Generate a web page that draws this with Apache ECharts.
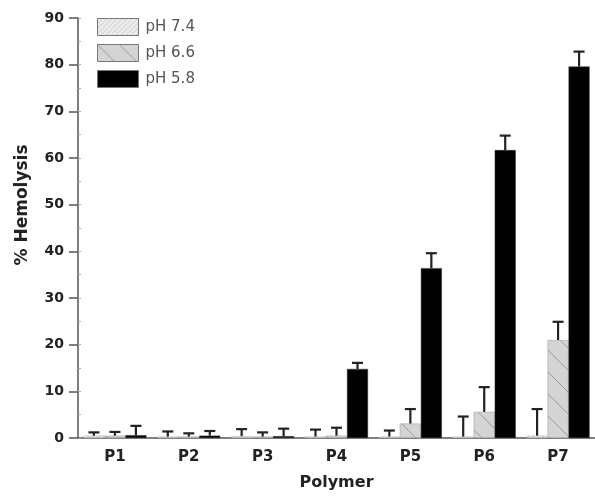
<!DOCTYPE html>
<html>
<head>
<meta charset="utf-8">
<script src="https://cdn.jsdelivr.net/npm/echarts@6/dist/echarts.min.js"></script>
<style>
  html, body { margin: 0; padding: 0; background: #fff; }
  #main { width: 595px; height: 504px; }
</style>
</head>
<body>
<div id="main"></div>
<script>
// 数据
var categories = ['P1', 'P2', 'P3', 'P4', 'P5', 'P6', 'P7'];
var seriesNames = ['pH 7.4', 'pH 6.6', 'pH 5.8'];
var ph74 = [0.5, 0.3, 0.4, 0.3, 0.3, 0.3, 0.5];
var ph74Err = [1.2, 1.4, 1.9, 1.8, 1.6, 4.6, 6.2];
var ph66 = [0.5, 0.3, 0.3, 0.5, 3.1, 5.6, 21.0];
var ph66Err = [1.3, 1.0, 1.2, 2.2, 6.2, 10.9, 24.9];
var ph58 = [0.6, 0.5, 0.4, 14.8, 36.4, 61.7, 79.6];
var ph58Err = [2.6, 1.5, 2.0, 16.1, 39.6, 64.8, 82.8];
var yTicks = [0, 10, 20, 30, 40, 50, 60, 70, 80, 90];

var BAR_W = 21;
var FONT = 'DejaVu Sans, Verdana, sans-serif';

//斜线填充
function makePattern(bg, line, step, dir, lw) {
    var c = document.createElement('canvas');
    c.width = step;
    c.height = step;
    var ctx = c.getContext('2d');
    ctx.fillStyle = bg;
    ctx.fillRect(0, 0, step, step);
    ctx.strokeStyle = line;
    ctx.lineWidth = lw;
    ctx.beginPath();
    if (dir > 0) {
        ctx.moveTo(-1, step + 1); ctx.lineTo(step + 1, -1);
        ctx.moveTo(-1, 1); ctx.lineTo(1, -1);
        ctx.moveTo(step - 1, step + 1); ctx.lineTo(step + 1, step - 1);
    } else {
        ctx.moveTo(-1, -1); ctx.lineTo(step + 1, step + 1);
        ctx.moveTo(step - 1, -1); ctx.lineTo(step + 1, 1);
        ctx.moveTo(-1, step - 1); ctx.lineTo(1, step + 1);
    }
    ctx.stroke();
    return { image: c, repeat: 'repeat' };
}

var fill74 = makePattern('#ededed', '#c8c8c8', 5, 1, 1);
var fill66 = makePattern('#d4d4d4', '#9c9c9c', 22, -1, 1);

function errData(vals, errs) {
    var out = [];
    for (var i = 0; i < vals.length; i++) {
        out.push([i, vals[i], errs[i]]);
    }
    return out;
}

function errSeries(vals, errs, k) {
    return {
        type: 'custom',
        name: seriesNames[k] + ' err',
        z: 5,
        data: errData(vals, errs),
        encode: { x: 0, y: [1, 2] },
        renderItem: function (params, api) {
            var base = api.coord([api.value(0), api.value(1)]);
            var top = api.coord([api.value(0), api.value(2)]);
            var x = base[0] + (k - 1) * BAR_W;
            var st = { stroke: '#222', lineWidth: 2.2 };
            return {
                type: 'group',
                children: [
                    { type: 'line', shape: { x1: x, y1: base[1], x2: x, y2: top[1] }, style: st },
                    { type: 'line', shape: { x1: x - 5.5, y1: top[1], x2: x + 5.5, y2: top[1] }, style: st }
                ]
            };
        }
    };
}

var option = {
    animation: false,
    textStyle: { fontFamily: FONT },
    grid: { left: 78, right: 0, top: 18, bottom: 66, containLabel: false },
    legend: {
        data: seriesNames,
        orient: 'vertical',
        left: 92,
        top: 13,
        itemWidth: 41,
        itemHeight: 17,
        itemGap: 8,
        icon: 'rect',
        itemStyle: { borderColor: '#777', borderWidth: 1 },
        textStyle: { color: '#555', fontSize: 15, fontFamily: FONT, padding: [0, 0, 0, 2] },
        selectedMode: false
    },
    xAxis: {
        type: 'category',
        data: categories,
        name: 'Polymer',
        nameLocation: 'middle',
        nameGap: 37,
        nameTextStyle: { color: '#222', fontSize: 16, fontWeight: 'bold', fontFamily: FONT },
        axisLine: { lineStyle: { color: '#555', width: 1.5 } },
        axisTick: { alignWithLabel: true, length: 7, lineStyle: { color: '#555', width: 1.5 } },
        axisLabel: { margin: 12, color: '#222', fontSize: 15, fontWeight: 'bold', fontFamily: FONT }
    },
    yAxis: [{
        type: 'value',
        min: yTicks[0],
        max: yTicks[yTicks.length - 1],
        interval: 10,
        name: '% Hemolysis',
        nameLocation: 'middle',
        nameGap: 47,
        nameTextStyle: { color: '#222', fontSize: 17, fontWeight: 'bold', fontFamily: FONT, padding: [0, 0, 0, 46] },
        axisLine: { show: true, lineStyle: { color: '#555', width: 1.5 } },
        axisTick: { show: true, length: 9, lineStyle: { color: '#555', width: 1.5 } },
        axisLabel: { margin: 14, color: '#222', fontSize: 14, fontWeight: 'bold', fontFamily: FONT },
        splitLine: { show: false }
    }, {
        type: 'value',
        position: 'left',
        min: 0,
        max: 90,
        interval: 5,
        axisLine: { show: false },
        axisTick: { show: true, inside: true, length: 3, lineStyle: { color: '#aaa', width: 1 } },
        axisLabel: { show: false },
        splitLine: { show: false }
    }],
    series: [{
        type: 'bar',
        name: seriesNames[0],
        data: ph74,
        barWidth: BAR_W,
        barGap: '0%',
        itemStyle: { color: fill74, borderColor: '#aaa', borderWidth: 0.5 }
    }, {
        type: 'bar',
        name: seriesNames[1],
        data: ph66,
        barWidth: BAR_W,
        barGap: '0%',
        itemStyle: { color: fill66, borderColor: '#999', borderWidth: 0.5 }
    }, {
        type: 'bar',
        name: seriesNames[2],
        data: ph58,
        barWidth: BAR_W,
        barGap: '0%',
        itemStyle: { color: '#000', borderColor: '#333', borderWidth: 0.5 }
    },
    errSeries(ph74, ph74Err, 0),
    errSeries(ph66, ph66Err, 1),
    errSeries(ph58, ph58Err, 2)
    ]
};

var chart = echarts.init(document.getElementById('main'));
chart.setOption(option);
</script>
</body>
</html>
